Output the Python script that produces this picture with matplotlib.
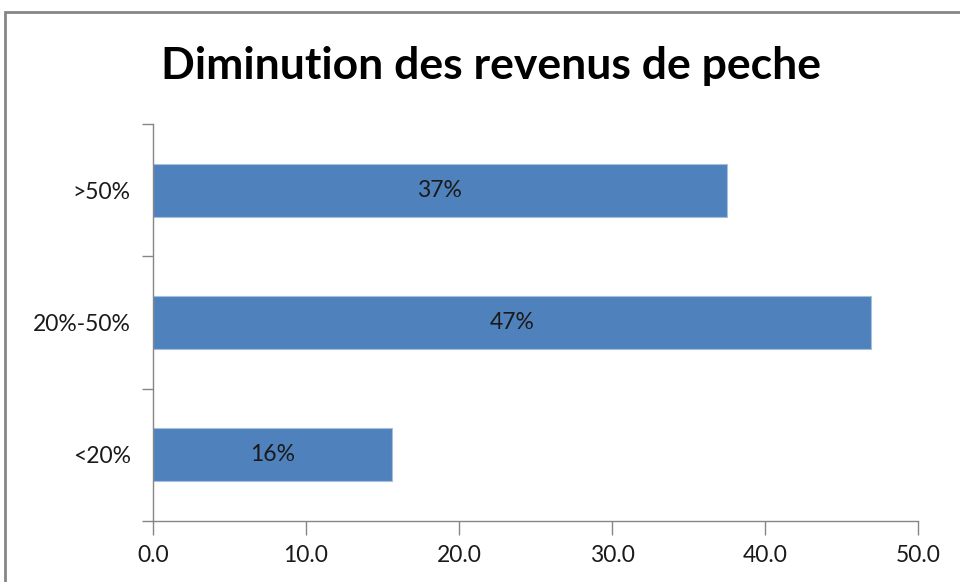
import matplotlib
matplotlib.use("Agg")
import matplotlib.pyplot as plt
from matplotlib.patches import Rectangle

categories = ["<20%", "20%-50%", ">50%"]
values = [15.6, 46.9, 37.5]
labels = ["16%", "47%", "37%"]
xticks = [0, 10, 20, 30, 40, 50]

plt.rcParams['font.family'] = ['Lato', 'DejaVu Sans']

fig = plt.figure(figsize=(9.6, 5.82), dpi=100)
fig.patches.append(Rectangle((5/960, -0.1), 1.2, (582-12)/582 + 0.1, transform=fig.transFigure,
                             fill=False, edgecolor='#868686', linewidth=2))
ax = fig.add_axes([153/960, 1-521/582, (918-153)/960, (521-124)/582])

y = list(range(len(categories)))
bars = ax.barh(y, values, height=0.4, color='#4F81BD', edgecolor='#A7BFDE', linewidth=0.8)
for b, lab in zip(bars, labels):
    ax.text(b.get_width()/2, b.get_y()+b.get_height()/2, lab, ha='center', va='center',
            fontsize=16.5, color='#1a1a1a')

ax.set_xlim(0, 50)
ax.set_ylim(-0.5, 2.5)
ax.set_xticks(xticks)
ax.set_xticklabels([f"{v:.1f}" for v in xticks], fontsize=16.5, color='#1a1a1a')
ax.set_yticks(y)
ax.set_yticklabels(categories, fontsize=16.5, color='#1a1a1a')
ax.set_yticks([-0.5, 0.5, 1.5, 2.5], minor=True)
ax.tick_params(axis='y', which='major', length=0, pad=16)
ax.tick_params(axis='y', which='minor', length=8, color='#868686', width=1)
ax.tick_params(axis='x', length=10, color='#868686', width=1, pad=7)
for s in ['top', 'right']:
    ax.spines[s].set_visible(False)
for s in ['left', 'bottom']:
    ax.spines[s].set_color('#868686')
    ax.spines[s].set_linewidth(1)

fig.text(491/960, 1-66/582, "Diminution des revenus de peche", ha='center', va='center',
         fontsize=32, fontweight='bold', color='black')

fig.savefig("out.png", dpi=100)
